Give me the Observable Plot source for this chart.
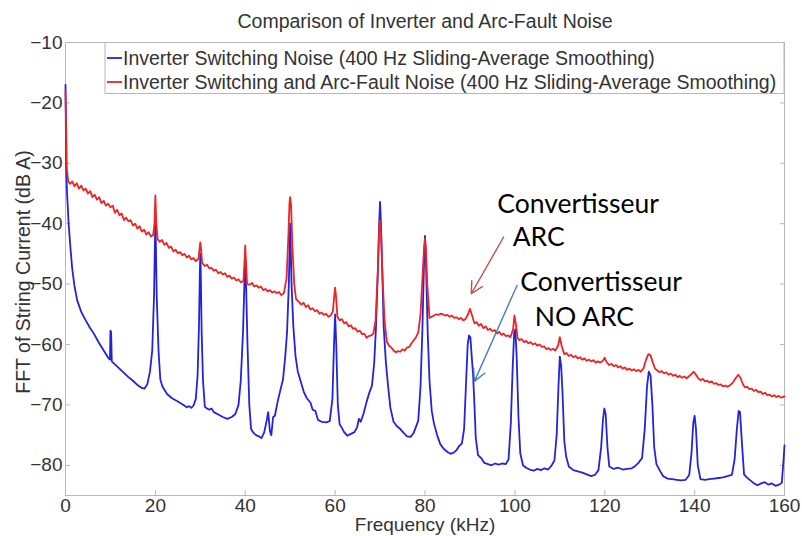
<!DOCTYPE html>
<html><head><meta charset="utf-8">
<script src="https://cdn.jsdelivr.net/npm/d3@7"></script>
<script src="https://cdn.jsdelivr.net/npm/@observablehq/plot@0.6"></script>
<style>body{margin:0;background:#fff}</style>
</head><body><div id="chart"></div>
<script>
const chartTitle = "Comparison of Inverter and Arc-Fault Noise";
const xLabel = "Frequency (kHz)";
const yLabel = "FFT of String Current (dB A)";
const seriesNames = [
  "Inverter Switching Noise (400 Hz Sliding-Average Smoothing)",
  "Inverter Switching and Arc-Fault Noise (400 Hz Sliding-Average Smoothing)"
];
const xTicks = [0, 20, 40, 60, 80, 100, 120, 140, 160];
const yTicks = [-10, -20, -30, -40, -50, -60, -70, -80];

// [kHz, dB] — inverter switching noise (blue)
const inverterNoise = [
[0,-17],[0.15,-31],[0.35,-35],[0.7,-40],[1.1,-44],[1.5,-47.5],[2,-50.3],[2.6,-52.7],[3.5,-54.6],[4.5,-56],
[5.5,-57.3],[6.3,-58.2],[7.5,-59.8],[8.5,-61],[9.5,-62.2],[9.9,-62.5],[10,-57.7],[10.15,-57.9],[10.3,-62.8],[11,-63.3],
[12,-64],[13,-64.7],[14,-65.4],[15,-66],[16,-66.7],[17,-67.2],[17.6,-67.3],[18.2,-66.6],[18.8,-64.5],[19.3,-61],
[19.7,-52],[19.9,-43],[20,-40],[20.1,-43],[20.3,-52],[20.7,-61],[21.1,-65.8],[21.6,-67],[22.6,-68.2],[23.7,-68.9],
[24.9,-69.4],[26,-69.9],[27,-70.4],[27.5,-70.2],[28,-70.5],[28.5,-70.1],[29,-69],[29.4,-65],[29.7,-57],[29.9,-48],
[30,-45],[30.1,-48],[30.3,-58],[30.6,-66],[31,-70.3],[31.5,-70.6],[32,-70.8],[32.5,-70.6],[33,-71.2],[34,-71.6],
[35,-72],[36,-72.3],[37,-72],[37.8,-71.5],[38.5,-70],[39,-66],[39.5,-58],[39.85,-49],[40,-46],[40.15,-49],
[40.5,-60],[40.9,-70],[41.3,-74],[41.8,-74.6],[42.4,-75],[43,-75.2],[43.6,-75.5],[44.2,-74.6],[44.8,-72.5],[45.1,-71.2],
[45.5,-74.4],[45.8,-75],[46.2,-72],[46.6,-71.8],[47.2,-69.5],[47.8,-67.6],[48.4,-65.8],[48.9,-62],[49.3,-58],[49.7,-50],
[50,-40],[50.3,-50],[50.7,-57],[51.2,-62],[51.7,-64.5],[52.3,-66],[53,-67.8],[53.7,-68.9],[54.5,-69.6],[55,-70.8],
[55.6,-71],[56.2,-72.5],[57,-72.8],[58,-72.9],[58.8,-72.7],[59.4,-69],[59.75,-60],[60,-55],[60.25,-60],[60.6,-70],
[61,-73.2],[61.5,-73.8],[62,-74.5],[62.7,-75.1],[63.5,-74.8],[64.3,-74.5],[64.9,-73.7],[65.3,-72.3],[65.7,-72.8],[66.3,-71.5],
[67,-69.5],[67.6,-68],[68.2,-66.8],[68.7,-63],[69.1,-57],[69.5,-48],[69.8,-40],[70,-36.4],[70.2,-40],[70.5,-48],
[70.8,-57],[71.3,-63],[71.8,-67],[72.3,-70.5],[73,-72.8],[73.7,-73.5],[74.5,-74],[75.2,-74.6],[76,-75.2],[76.8,-75.3],
[77.5,-74.6],[78,-73.6],[78.5,-72.6],[79,-67],[79.4,-58],[79.8,-46],[80,-42],[80.2,-46],[80.6,-58],[81,-66],
[81.5,-71],[82,-73.1],[82.7,-75],[83.4,-76.5],[84.2,-77.3],[85,-77.8],[85.7,-78.1],[86.4,-77.9],[87,-77.5],[87.6,-76.8],
[88.2,-76.4],[88.7,-74],[89.1,-67],[89.5,-60],[89.8,-58.5],[90.1,-58.8],[90.4,-62],[90.7,-65],[91,-70],[91.3,-75.5],
[91.8,-78.3],[92.5,-78.8],[93.2,-79.6],[94,-79.8],[94.8,-80],[95.6,-79.7],[96.4,-79.9],[97.2,-79.7],[98,-79.8],[98.6,-79],
[99.1,-73],[99.5,-64],[99.85,-58],[100.1,-57.5],[100.4,-62],[100.8,-72],[101.2,-78],[101.8,-80],[102.5,-80.4],[103.3,-80.7],
[104.2,-80.9],[105,-80.6],[105.8,-80.8],[106.6,-80.5],[107.4,-80.7],[108.2,-80],[108.8,-79.2],[109.3,-75],[109.7,-67],[110,-62],
[110.3,-63.5],[110.6,-68],[111,-76],[111.4,-78.5],[112,-80.2],[113,-80.8],[114,-81],[115,-81.2],[116,-81.5],[117,-81.8],
[117.8,-81.6],[118.6,-80.8],[119.2,-77],[119.6,-72.5],[119.9,-70.6],[120.2,-71.5],[120.6,-77],[121,-80.2],[122,-80.6],[123,-80.4],
[124,-80.7],[125,-80.6],[126,-80.5],[126.8,-80.1],[127.5,-79.6],[128.3,-78.8],[128.9,-74],[129.4,-67],[129.8,-64.5],[130.2,-65.2],
[130.6,-70],[131,-77],[131.5,-79.8],[132.2,-80.8],[133,-81.8],[134,-82.2],[135,-82.3],[136,-82.4],[137,-82.5],[138,-82.4],
[138.8,-81.6],[139.3,-78],[139.7,-73],[140,-71.8],[140.3,-74],[140.7,-80],[141.3,-82.3],[142.3,-82.4],[143.3,-82.3],[144.3,-82.2],
[145.3,-82.1],[146.3,-82],[147.3,-81.8],[148.3,-81.6],[148.9,-79],[149.4,-74],[149.8,-71],[150.1,-71.2],[150.5,-76],[151,-81.5],
[151.6,-82],[152.4,-82.5],[153.2,-83],[154,-83.3],[154.8,-83],[155.6,-82.8],[156.4,-83.2],[157.2,-83],[158,-83.4],[158.8,-83.2],
[159.4,-82.9],[159.8,-79],[160,-76.7]
];

// [kHz, dB] — inverter switching + arc-fault noise (red)
const arcNoise = [
[0,-18],[0.3,-31],[0.6,-33],[1,-33.4],[1.5,-33],[2,-33.8],[2.5,-33.3],[3,-34.2],[3.5,-33.7],[4,-34.5],
[4.5,-34.2],[5,-35],[5.5,-34.6],[6,-35.6],[6.5,-35.2],[7,-36],[7.5,-35.6],[8,-36.6],[8.5,-36.2],[9,-37],
[9.5,-36.7],[10,-37.3],[10.5,-37],[11,-38.2],[11.5,-37.7],[12,-38.6],[12.5,-38.3],[13,-39.4],[13.5,-39],[14,-39.6],
[14.5,-39.4],[15,-40.3],[15.5,-40],[16,-40.8],[16.5,-40.4],[17,-41.3],[17.5,-41],[18,-41.8],[18.5,-41.4],[19,-42.1],
[19.5,-41.9],[19.8,-40],[20,-35.3],[20.2,-40],[20.5,-42.6],[21,-43],[21.5,-42.7],[22,-43.5],[22.5,-43.2],[23,-44],
[23.5,-43.8],[24,-44.6],[24.5,-44.3],[25,-44.9],[25.5,-44.7],[26,-45.2],[26.5,-45],[27,-45.6],[27.5,-45.3],[28,-45.9],
[28.5,-45.7],[29,-46.2],[29.6,-45.8],[29.85,-44],[30,-43.1],[30.15,-44],[30.4,-46.5],[31,-47],[31.5,-46.8],[32,-47.4],
[32.5,-47.3],[33,-47.8],[33.5,-47.6],[34,-48.2],[34.5,-48],[35,-48.4],[35.5,-48.2],[36,-48.8],[36.5,-48.6],[37,-49.1],
[37.5,-48.9],[38,-49.4],[38.5,-49.2],[39,-49.7],[39.6,-49.5],[39.85,-46],[40,-43.6],[40.15,-46],[40.4,-50],[41,-50.1],
[41.5,-49.8],[42,-50.4],[42.5,-50.2],[43,-50.6],[43.5,-50.4],[44,-51],[44.5,-50.8],[45,-51.2],[45.5,-51],[46,-51.4],
[46.5,-51.2],[47,-51.5],[47.5,-51.3],[48,-51.8],[48.6,-51.5],[49.2,-49],[49.6,-42],[49.85,-36.5],[50,-35.6],[50.2,-37],
[50.5,-44],[50.9,-50],[51.3,-52.5],[52,-53],[52.5,-53.4],[53,-53.1],[53.5,-53.8],[54,-53.5],[54.5,-54.2],[55,-54],
[55.5,-54.5],[56,-54.3],[56.5,-54.9],[57,-54.7],[57.5,-55.1],[58,-54.9],[58.5,-55.4],[59,-55.2],[59.5,-54.5],[59.8,-52],
[60,-50.6],[60.2,-52],[60.5,-55.4],[61,-56],[61.5,-55.8],[62,-56.5],[62.5,-56.3],[63,-57],[63.5,-56.8],[64,-57.4],
[64.5,-57.3],[65,-57.9],[65.5,-57.7],[66,-58.3],[66.5,-58.2],[67,-58.9],[67.5,-58.6],[68,-58.5],[68.5,-58.2],[69,-56],
[69.5,-48],[69.8,-41],[70,-39.5],[70.2,-41],[70.5,-48],[71,-56],[71.5,-59.5],[72,-60.2],[72.5,-60.5],[73,-61],
[73.5,-61.3],[74,-61.1],[74.5,-61.2],[75,-60.8],[75.5,-61],[76,-60.5],[76.5,-60.4],[77,-59.8],[77.5,-59.3],[78,-58.8],
[78.5,-58],[79,-55],[79.5,-48],[79.8,-44],[80,-42.5],[80.2,-44],[80.5,-50],[81,-55.6],[81.5,-55.4],[82,-55.2],
[82.5,-55],[83,-55.1],[83.5,-54.9],[84,-55],[84.5,-55.2],[85,-55.1],[85.5,-55.4],[86,-55.2],[86.5,-55.6],[87,-55.5],
[87.5,-55.8],[88,-55.6],[88.5,-56],[89,-55.8],[89.6,-55],[90,-54.1],[90.4,-55],[91,-56.5],[91.5,-56.3],[92,-56.9],
[92.5,-56.6],[93,-57.3],[93.5,-57],[94,-57.6],[94.5,-57.4],[95,-57.8],[95.5,-57.6],[96,-58.2],[96.5,-57.9],[97,-58.4],
[97.5,-58.2],[98,-58.6],[98.5,-58.5],[99,-58.8],[99.6,-57.5],[99.9,-55.2],[100.2,-56.5],[100.6,-58.9],[101,-59.3],[101.5,-59.1],
[102,-59.6],[102.5,-59.4],[103,-59.8],[103.5,-59.6],[104,-60],[104.5,-59.8],[105,-60.2],[105.5,-60],[106,-60.4],[106.5,-60.3],
[107,-60.8],[107.5,-60.6],[108,-60.9],[108.5,-60.7],[109,-61],[109.6,-60.2],[110,-58.8],[110.4,-60.2],[111,-61.6],[111.5,-61.4],
[112,-61.9],[112.5,-61.7],[113,-62.1],[113.5,-61.9],[114,-62.3],[114.5,-62.1],[115,-62.5],[115.5,-62.3],[116,-62.7],[116.5,-62.5],
[117,-62.8],[117.5,-62.6],[118,-63],[118.5,-62.8],[119,-63],[119.6,-62.7],[120,-62.2],[120.4,-62.9],[121,-63.4],[121.5,-63.2],
[122,-63.6],[122.5,-63.4],[123,-63.8],[123.5,-63.6],[124,-64],[124.5,-63.8],[125,-64.2],[125.5,-64],[126,-64.3],[126.5,-64.1],
[127,-64.4],[127.5,-64.2],[128,-64.5],[128.6,-64],[129.2,-62.5],[129.7,-61.6],[130.2,-61.8],[130.7,-63],[131.2,-64],[131.7,-64.3],
[132.2,-64.6],[132.7,-64.4],[133.2,-64.8],[133.7,-64.6],[134.2,-65],[134.7,-64.8],[135.2,-65.2],[135.7,-65],[136.2,-65.4],[136.7,-65.2],
[137.2,-65.5],[137.7,-65.3],[138.2,-65.6],[138.7,-65.3],[139.3,-64.9],[139.8,-64.5],[140.3,-65],[140.8,-65.6],[141.3,-65.9],[141.8,-65.7],
[142.3,-66.1],[142.8,-66],[143.3,-66.3],[143.8,-66.1],[144.3,-66.5],[144.8,-66.4],[145.3,-66.7],[145.8,-66.6],[146.3,-66.9],[146.8,-66.8],
[147.3,-67],[147.8,-66.8],[148.5,-66.3],[149.2,-65.5],[149.7,-65],[150.2,-65.5],[150.7,-66.5],[151.2,-67.1],[151.7,-67],[152.2,-67.4],
[152.7,-67.3],[153.2,-67.7],[153.7,-67.5],[154.2,-67.9],[154.7,-67.8],[155.2,-68.2],[155.7,-68],[156.2,-68.4],[156.7,-68.3],[157.2,-68.6],
[157.7,-68.4],[158.2,-68.7],[158.7,-68.5],[159.2,-68.8],[160,-68.6]
];

// Annotations (text and arrows) in data coordinates [kHz, dB]
const noteTexts = [
  {x: 96.1, y: -36.8, text: "Convertisseur"},
  {x: 99.5, y: -42.3, text: "ARC"},
  {x: 101.2, y: -49.7, text: "Convertisseur"},
  {x: 104.4, y: -55.5, text: "NO ARC"}
];
const noteArrows = [
  {x1: 97.5, y1: -42.2, x2: 90.3, y2: -51.6, color: "#c0504d"},
  {x1: 100.5, y1: -50.2, x2: 91.0, y2: -66.1, color: "#4a7ebb"}
];

const blueColor = "#2323dc";
const redColor = "#ec2424";
const axisFont = "'Liberation Sans', Arial, sans-serif";

const plot = Plot.plot({
  width: 802,
  height: 536,
  marginLeft: 65,
  marginRight: 18,
  marginTop: 42,
  marginBottom: 41,
  style: {fontFamily: axisFont, fontSize: "19px", color: "#333", background: "#fff"},
  x: {domain: [0, 160]},
  y: {domain: [-85, -10]},
  marks: [
    Plot.frame({stroke: "#b8b8b8"}),
    Plot.axisX({ticks: xTicks, tickSize: -5, tickPadding: 8, label: null, stroke: "#b8b8b8", fill: "#333"}),
    Plot.axisX({anchor: "top", ticks: xTicks, tickSize: -5, tickFormat: () => "", label: null, stroke: "#b8b8b8"}),
    Plot.axisY({ticks: yTicks, tickSize: -5, tickPadding: 8, label: null, stroke: "#b8b8b8", fill: "#333"}),
    Plot.axisY({anchor: "right", ticks: yTicks, tickSize: -5, tickFormat: () => "", label: null, stroke: "#b8b8b8"}),
    Plot.line(inverterNoise, {x: d => d[0], y: d => d[1], stroke: blueColor, strokeWidth: 1.8}),
    Plot.line(arcNoise, {x: d => d[0], y: d => d[1], stroke: redColor, strokeWidth: 1.8}),
    Plot.arrow(noteArrows, {x1: "x1", y1: "y1", x2: "x2", y2: "y2", stroke: "color", strokeWidth: 1.4, headLength: 14, headAngle: 55}),
    Plot.text(noteTexts, {x: "x", y: "y", text: "text", textAnchor: "start", fontSize: 26.5, fontFamily: "Lato, 'Open Sans', sans-serif", fill: "#000"}),
    Plot.text([chartTitle], {frameAnchor: "top", lineAnchor: "middle", dy: -20.5, fontSize: 19.5, fill: "#333"}),
    Plot.text([xLabel], {frameAnchor: "bottom", lineAnchor: "middle", dy: 29.5, fontSize: 19, fill: "#333"}),
    Plot.text([yLabel], {frameAnchor: "left", textAnchor: "middle", lineAnchor: "middle", dx: -41.5, dy: 3, rotate: -90, fontSize: 19.5, fill: "#333"})
  ]
});

document.getElementById("chart").appendChild(plot);

// Legend box (MATLAB style) drawn inside the plot's SVG, top-right corner of axes
const svg = d3.select(plot);
const legendColors = [blueColor, redColor];
const lg = svg.append("g").attr("class", "legend");
lg.append("rect").attr("x", 105).attr("y", 42.5).attr("width", 679).attr("height", 51)
  .attr("fill", "#fff").attr("stroke", "#b8b8b8");
seriesNames.forEach((name, i) => {
  const cy = 58 + i * 24;
  lg.append("line").attr("x1", 107).attr("x2", 122).attr("y1", cy).attr("y2", cy)
    .attr("stroke", legendColors[i]).attr("stroke-width", 1.8);
  lg.append("text").attr("x", 123).attr("y", cy).attr("dy", "0.35em")
    .attr("text-anchor", "start")
    .attr("font-family", axisFont).attr("font-size", 19.5).attr("fill", "#333").text(name);
});
</script>
</body></html>
